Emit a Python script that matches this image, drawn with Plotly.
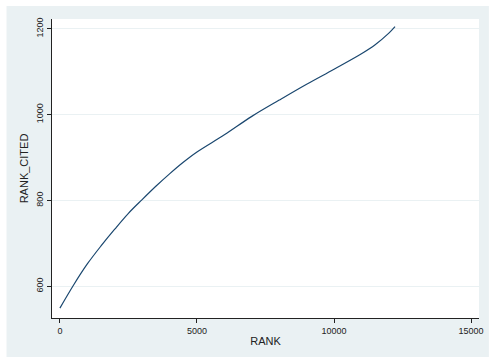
import plotly.graph_objects as go

rank = [0, 500, 1000, 1500, 2000, 2500, 3000, 3500, 4000, 4500, 5000, 6000, 7000,
        8000, 9000, 10000, 11000, 11500, 12000, 12225]
rank_cited = [549, 603, 652, 694, 733, 770, 802, 833, 862, 889, 913, 953, 996,
              1034, 1071, 1106, 1142, 1163, 1190, 1205]

x_ticks = [0, 5000, 10000, 15000]
y_ticks = [600, 800, 1000, 1200]

BG = "#EAF1F3"
NAVY = "#1A476F"
FONT = "Liberation Sans, Arial, sans-serif"

fig = go.Figure()
fig.add_trace(go.Scatter(x=rank, y=rank_cited, mode="lines",
                         line=dict(color=NAVY, width=1.2, shape="spline", smoothing=1.0),
                         showlegend=False))

L, R, T, B = 52, 10, 19, 43
W, H = 494, 361
pw, ph = W - L - R, H - T - B
fig.add_shape(type="rect", xref="paper", yref="paper", layer="below",
              x0=(6 - L) / pw, x1=(W - L) / pw,
              y0=-(357 - (H - B)) / ph, y1=1 + (T - 6) / ph,
              fillcolor=BG, line=dict(width=0))
fig.add_shape(type="rect", xref="paper", yref="paper", layer="below",
              x0=0, x1=1, y0=0, y1=1, fillcolor="white", line=dict(width=0))

fig.update_layout(
    width=W, height=H,
    margin=dict(l=L, r=R, t=T, b=B),
    paper_bgcolor="white", plot_bgcolor="rgba(0,0,0,0)",
    font=dict(family=FONT, size=9, color="#222222"),
)
fig.update_xaxes(range=[-288, 15288], tickvals=x_ticks, ticktext=[str(v) for v in x_ticks],
                 showgrid=False, zeroline=False, showline=True, linecolor="#222222",
                 linewidth=1, ticks="outside", ticklen=4, tickcolor="#222222",
                 tickfont=dict(size=9),
                 title=dict(text="RANK", font=dict(size=11), standoff=2))
fig.update_yaxes(range=[526, 1223], tickvals=y_ticks, ticktext=[str(v) for v in y_ticks],
                 showgrid=True, gridcolor="#EAF1F3", gridwidth=1, zeroline=False,
                 showline=True, linecolor="#222222", linewidth=1,
                 ticks="outside", ticklen=4, tickcolor="#222222",
                 tickangle=-90, tickfont=dict(size=9),
                 title=dict(text="RANK_CITED", font=dict(size=11), standoff=4))

fig.write_html("out.html")
